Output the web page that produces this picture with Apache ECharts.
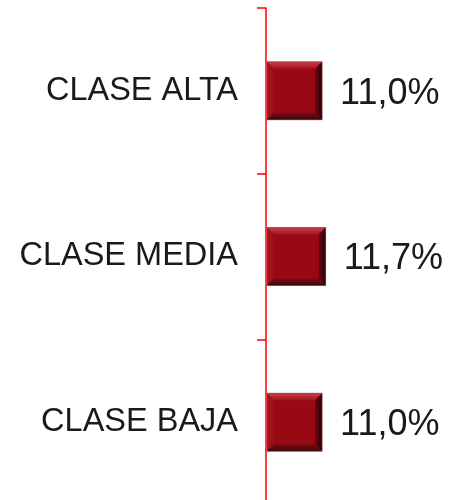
<!DOCTYPE html>
<html>
<head>
<meta charset="utf-8">
<script src="https://cdn.jsdelivr.net/npm/echarts@6/dist/echarts.min.js"></script>
<style>html,body{margin:0;padding:0;background:#fff;}#c{width:452px;height:500px;}</style>
</head>
<body>
<div id="c"></div>
<script>
var categories = ['CLASE ALTA', 'CLASE MEDIA', 'CLASE BAJA'];
var values = [11.0, 11.7, 11.0];
var valueLabels = ['11,0%', '11,7%', '11,0%'];

var FONT = '"Liberation Sans", Arial, sans-serif';
var chart = echarts.init(document.getElementById('c'), null, {renderer: 'canvas'});

function renderBar(params, api) {
  var idx = params.dataIndex;
  var v = api.value(0);
  var c = api.value(1);
  var start = api.coord([0, c]);
  var end = api.coord([v, c]);
  var band = api.size([0, 1])[1];
  var h = band * 0.35;
  var x0 = start[0] + 1, x1 = end[0];
  var y0 = start[1] - h / 2, y1 = start[1] + h / 2;
  var b = 7;
  var w = x1 - x0;
  return {
    type: 'group',
    children: [
      {type: 'rect', shape: {x: x0, y: y0, width: w, height: h}, style: {fill: '#990914'}},
      {type: 'polygon', shape: {points: [[x0, y0], [x1, y0], [x1 - b, y0 + b], [x0 + b, y0 + b]]},
        style: {fill: new echarts.graphic.LinearGradient(0, 0, 0, 1, [{offset: 0, color: '#c8404e'}, {offset: 1, color: '#a5121f'}])}},
      {type: 'polygon', shape: {points: [[x0, y0], [x0 + b, y0 + b], [x0 + b, y1 - b], [x0, y1]]},
        style: {fill: new echarts.graphic.LinearGradient(0, 0, 1, 0, [{offset: 0, color: '#ad1422'}, {offset: 1, color: '#9c0b17'}])}},
      {type: 'polygon', shape: {points: [[x1, y0], [x1, y1], [x1 - b, y1 - b], [x1 - b, y0 + b]]},
        style: {fill: new echarts.graphic.LinearGradient(0, 0, 1, 0, [{offset: 0, color: '#6a0510'}, {offset: 1, color: '#2a0004'}])}},
      {type: 'polygon', shape: {points: [[x0, y1], [x0 + b, y1 - b], [x1 - b, y1 - b], [x1, y1]]},
        style: {fill: new echarts.graphic.LinearGradient(0, 0, 0, 1, [{offset: 0, color: '#7a0a14'}, {offset: 0.5, color: '#5a0a10'}, {offset: 1, color: '#3a0208'}])}},
      {type: 'rect', shape: {x: x0, y: y0, width: w, height: h}, style: {fill: 'none', stroke: 'rgba(130,70,70,0.5)', lineWidth: 1}},
      {type: 'text', x: x1 + 18, y: start[1] + 3,
        style: {text: valueLabels[idx], fill: '#1a1a1a', font: '36px ' + FONT, verticalAlign: 'middle', align: 'left'}}
    ]
  };
}

var data = values.map(function (v, i) { return [v, i]; });

chart.setOption({
  animation: false,
  backgroundColor: '#ffffff',
  grid: {left: 266, width: 204, top: 8, height: 497, containLabel: false, outerBoundsMode: 'none'},
  xAxis: {type: 'value', min: 0, max: 40, show: false},
  yAxis: {
    type: 'category', data: categories, inverse: true,
    axisLine: {show: true, lineStyle: {color: '#ff0000', width: 1.5}},
    axisTick: {show: true, length: 9, lineStyle: {color: '#ff0000', width: 1.5}},
    axisLabel: {margin: 28, color: '#1a1a1a', fontSize: 32.5, fontFamily: FONT},
    splitLine: {show: false}
  },
  series: [{
    type: 'custom',
    renderItem: renderBar,
    encode: {x: 0, y: 1},
    data: data,
    clip: false
  }]
});
</script>
</body>
</html>
